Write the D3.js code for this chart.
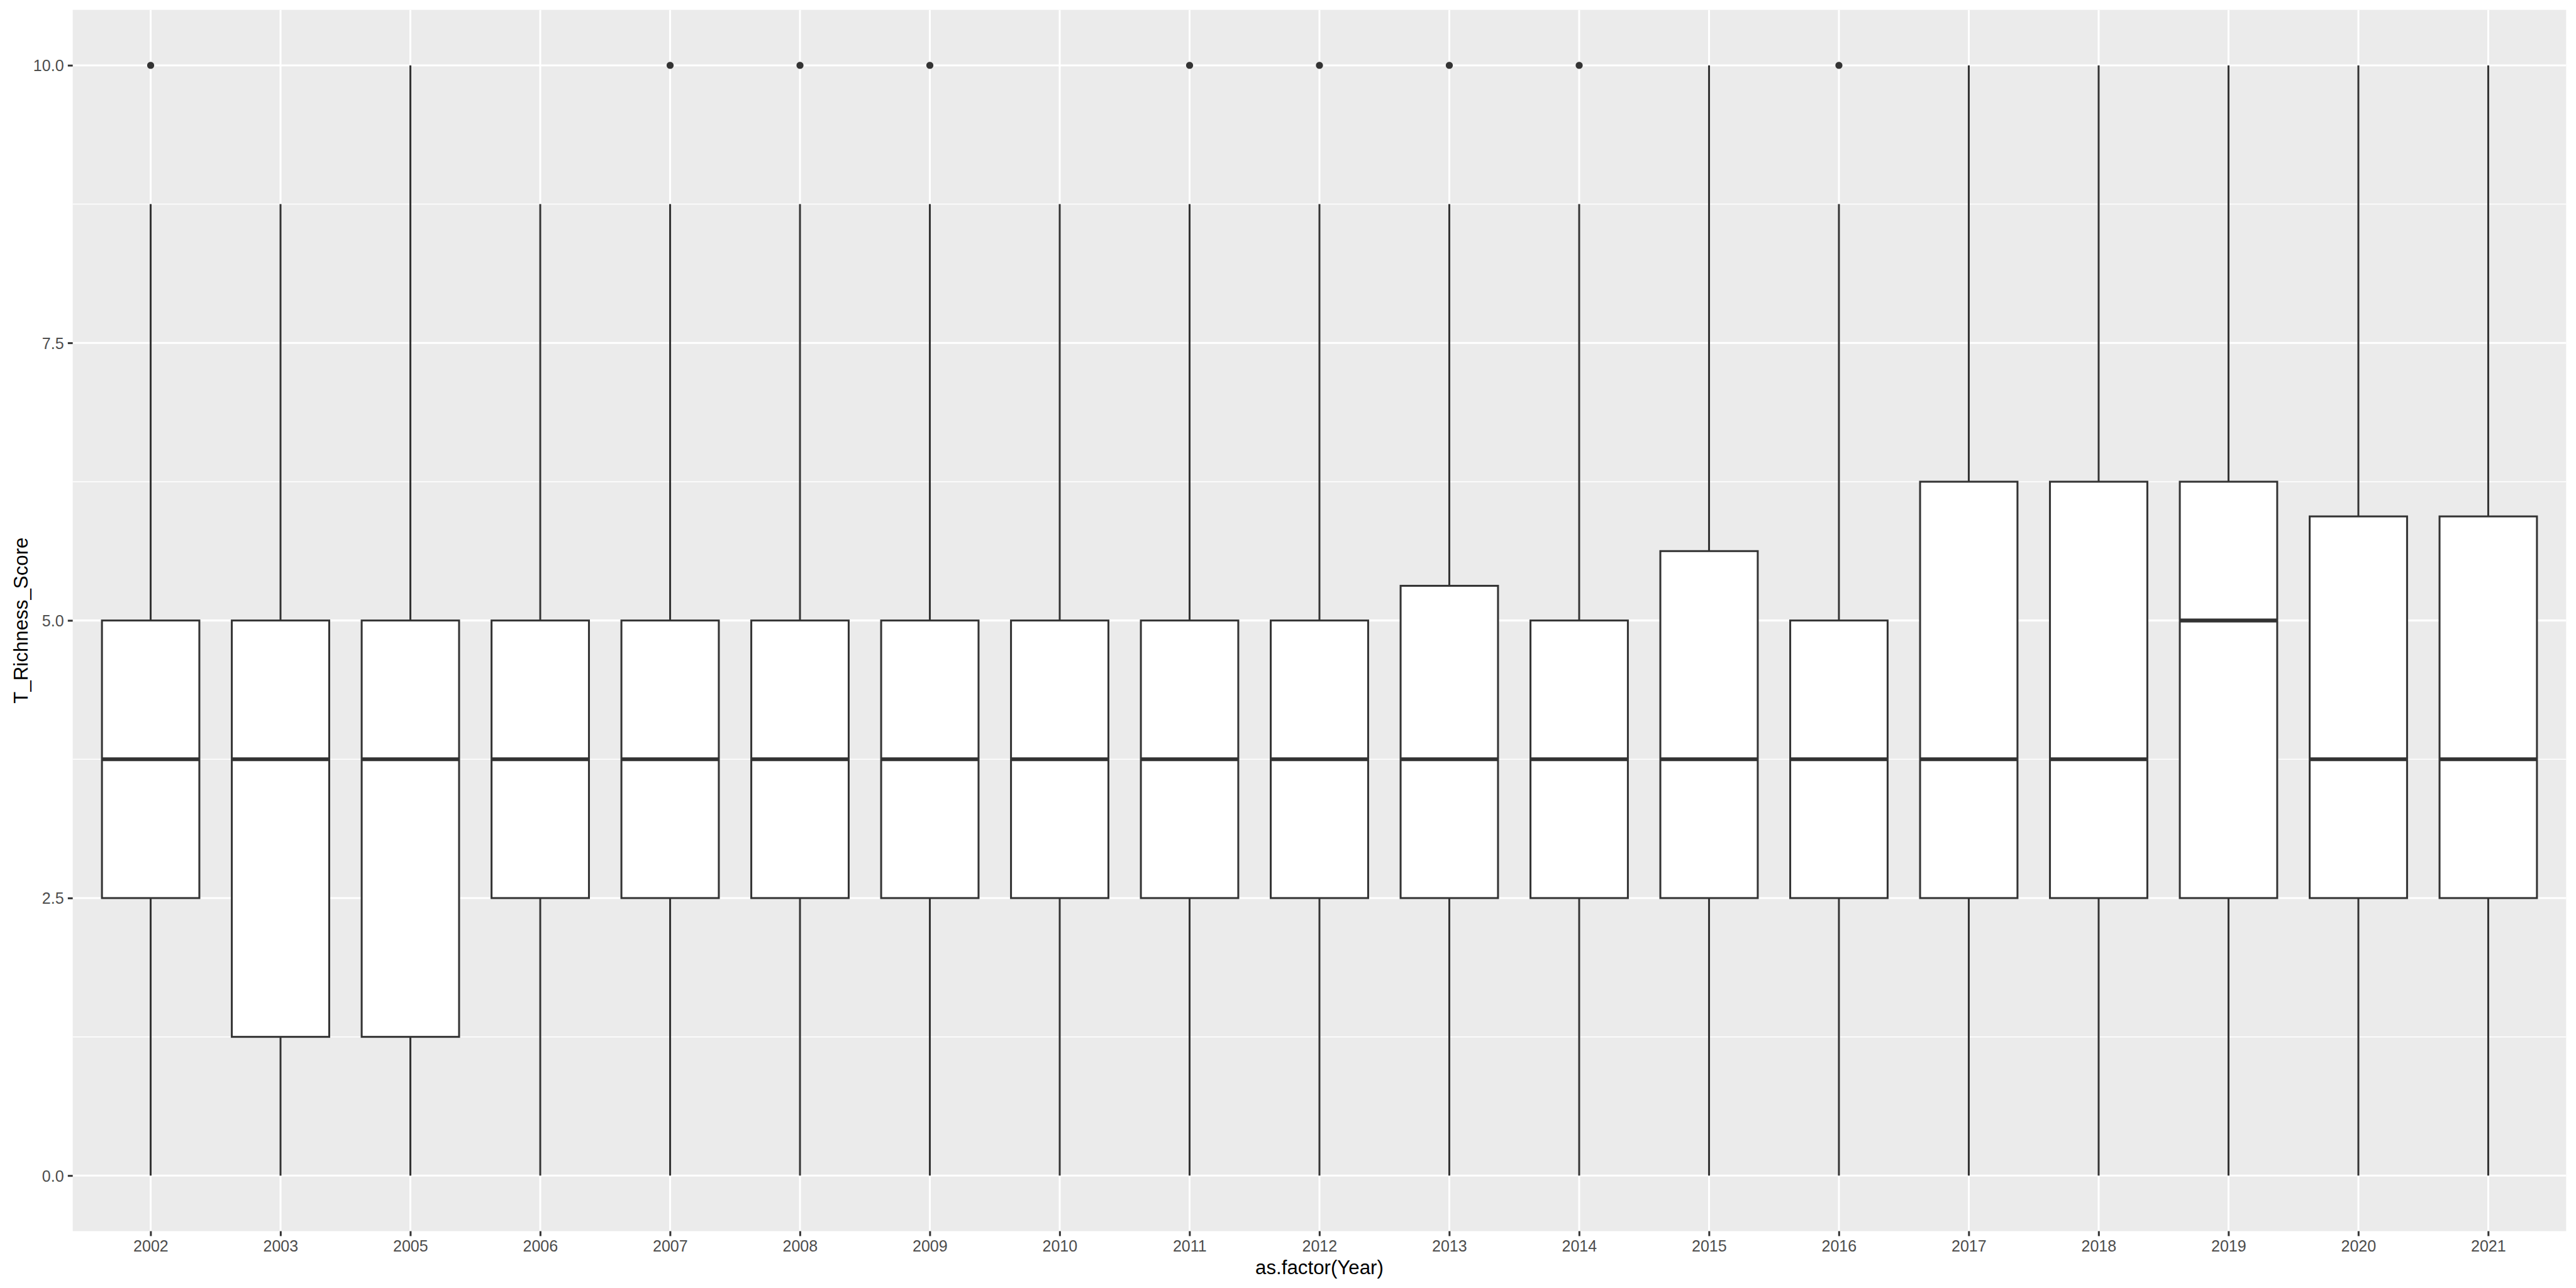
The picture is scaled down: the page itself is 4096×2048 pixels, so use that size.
<!DOCTYPE html>
<html>
<head>
<meta charset="utf-8">
<script src="https://cdn.jsdelivr.net/npm/d3@7"></script>
<style>
  html, body { margin: 0; padding: 0; background: #fff; }
  svg { display: block; }
</style>
</head>
<body>
<script>
// ---- data ----
const years   = ["2002","2003","2005","2006","2007","2008","2009","2010","2011","2012","2013","2014","2015","2016","2017","2018","2019","2020","2021"];
const lowerW  = [0,0,0,0,0,0,0,0,0,0,0,0,0,0,0,0,0,0,0];
const q1      = [2.5,1.25,1.25,2.5,2.5,2.5,2.5,2.5,2.5,2.5,2.5,2.5,2.5,2.5,2.5,2.5,2.5,2.5,2.5];
const medians = [3.75,3.75,3.75,3.75,3.75,3.75,3.75,3.75,3.75,3.75,3.75,3.75,3.75,3.75,3.75,3.75,5,3.75,3.75];
const q3      = [5,5,5,5,5,5,5,5,5,5,5.3125,5,5.625,5,6.25,6.25,6.25,5.9375,5.9375];
const upperW  = [8.75,8.75,10,8.75,8.75,8.75,8.75,8.75,8.75,8.75,8.75,8.75,10,8.75,10,10,10,10,10];
const outliers = [[10],[],[],[],[10],[10],[10],[],[10],[10],[10],[10],[],[10],[],[],[],[],[]];
const yTicks  = [0, 2.5, 5, 7.5, 10];
const yMinor  = [1.25, 3.75, 6.25, 8.75];
const xTitle  = "as.factor(Year)";
const yTitle  = "T_Richness_Score";

// ---- layout (reference pixel space 6000x3000, scaled via viewBox) ----
const W = 6000, H = 3000;
const pt = 300 / 72;               // px per point at 300 dpi
const lw = 1.42 * 300 / 96;        // ggplot linewidth 0.5
const margin = 5.5 * pt;
const tickLen = 2.75 * pt;
const tickPad = 2.2 * pt;
const axisFont = 8.8 * pt;
const titleFont = 11 * pt;

const panel = { left: 169.4, top: margin, right: W - margin, bottom: 2867.6 };

const svg = d3.select("body").append("svg")
  .attr("width", 4096).attr("height", 2048)
  .attr("viewBox", `0 0 ${W} ${H}`)
  .style("font-family", "Arial, 'Liberation Sans', Helvetica, sans-serif");

svg.append("rect").attr("width", W).attr("height", H).attr("fill", "#ffffff");

const x = d3.scalePoint().domain(years).range([panel.left, panel.right]).padding(0.6);
const y = d3.scaleLinear().domain([-0.5, 10.5]).range([panel.bottom, panel.top]);
const step = x.step();
const boxW = 0.75 * step;

// panel background
svg.append("rect")
  .attr("x", panel.left).attr("y", panel.top)
  .attr("width", panel.right - panel.left).attr("height", panel.bottom - panel.top)
  .attr("fill", "#EBEBEB");

// grid lines
const grid = svg.append("g");
grid.selectAll("line.minor").data(yMinor).enter().append("line")
  .attr("x1", panel.left).attr("x2", panel.right)
  .attr("y1", d => y(d)).attr("y2", d => y(d))
  .attr("stroke", "#ffffff").attr("stroke-width", lw / 2);
grid.selectAll("line.majy").data(yTicks).enter().append("line")
  .attr("x1", panel.left).attr("x2", panel.right)
  .attr("y1", d => y(d)).attr("y2", d => y(d))
  .attr("stroke", "#ffffff").attr("stroke-width", lw);
grid.selectAll("line.majx").data(years).enter().append("line")
  .attr("y1", panel.top).attr("y2", panel.bottom)
  .attr("x1", d => x(d)).attr("x2", d => x(d))
  .attr("stroke", "#ffffff").attr("stroke-width", lw);

// boxes
const stats = years.map((yr, i) => ({
  yr, lo: lowerW[i], q1: q1[i], med: medians[i], q3: q3[i], hi: upperW[i], out: outliers[i]
}));
const g = svg.append("g").selectAll("g").data(stats).enter().append("g");
const boxCol = "#333333";
g.append("line")
  .attr("x1", d => x(d.yr)).attr("x2", d => x(d.yr))
  .attr("y1", d => y(d.q3)).attr("y2", d => y(d.hi))
  .attr("stroke", boxCol).attr("stroke-width", lw);
g.append("line")
  .attr("x1", d => x(d.yr)).attr("x2", d => x(d.yr))
  .attr("y1", d => y(d.q1)).attr("y2", d => y(d.lo))
  .attr("stroke", boxCol).attr("stroke-width", lw);
g.append("rect")
  .attr("x", d => x(d.yr) - boxW / 2).attr("width", boxW)
  .attr("y", d => y(d.q3)).attr("height", d => y(d.q1) - y(d.q3))
  .attr("fill", "#ffffff").attr("stroke", boxCol).attr("stroke-width", lw)
  .attr("stroke-linejoin", "miter");
g.append("line")
  .attr("x1", d => x(d.yr) - boxW / 2).attr("x2", d => x(d.yr) + boxW / 2)
  .attr("y1", d => y(d.med)).attr("y2", d => y(d.med))
  .attr("stroke", boxCol).attr("stroke-width", lw * 2);
g.selectAll("circle").data(d => d.out.map(v => ({ yr: d.yr, v }))).enter().append("circle")
  .attr("cx", d => x(d.yr)).attr("cy", d => y(d.v)).attr("r", 8.3)
  .attr("fill", boxCol);

// axes
const yAxis = d3.axisLeft(y).tickValues(yTicks).tickFormat(d3.format(".1f"))
  .tickSize(tickLen).tickPadding(tickPad);
const ya = svg.append("g").attr("transform", `translate(${panel.left},0)`).call(yAxis);
ya.select(".domain").remove();
ya.selectAll(".tick line").attr("stroke", "#333333").attr("stroke-width", lw);
ya.selectAll(".tick text").attr("fill", "#4D4D4D").attr("font-size", axisFont)
  .attr("dy", "0.36em").attr("font-family", "Arial, 'Liberation Sans', sans-serif");

const xAxis = d3.axisBottom(x).tickSize(tickLen).tickPadding(tickPad);
const xa = svg.append("g").attr("transform", `translate(0,${panel.bottom})`).call(xAxis);
xa.select(".domain").remove();
xa.selectAll(".tick line").attr("stroke", "#333333").attr("stroke-width", lw);
xa.selectAll(".tick text").attr("fill", "#4D4D4D").attr("font-size", axisFont)
  .attr("dy", "0.72em").attr("font-family", "Arial, 'Liberation Sans', sans-serif");

// titles
svg.append("text")
  .attr("x", (panel.left + panel.right) / 2).attr("y", H - margin - 0.212 * titleFont)
  .attr("text-anchor", "middle").attr("font-size", titleFont).attr("fill", "#000000")
  .text(xTitle);
svg.append("text")
  .attr("transform", `translate(${margin + 0.905 * titleFont},${(panel.top + panel.bottom) / 2}) rotate(-90)`)
  .attr("text-anchor", "middle").attr("font-size", titleFont).attr("fill", "#000000")
  .text(yTitle);
</script>
</body>
</html>
